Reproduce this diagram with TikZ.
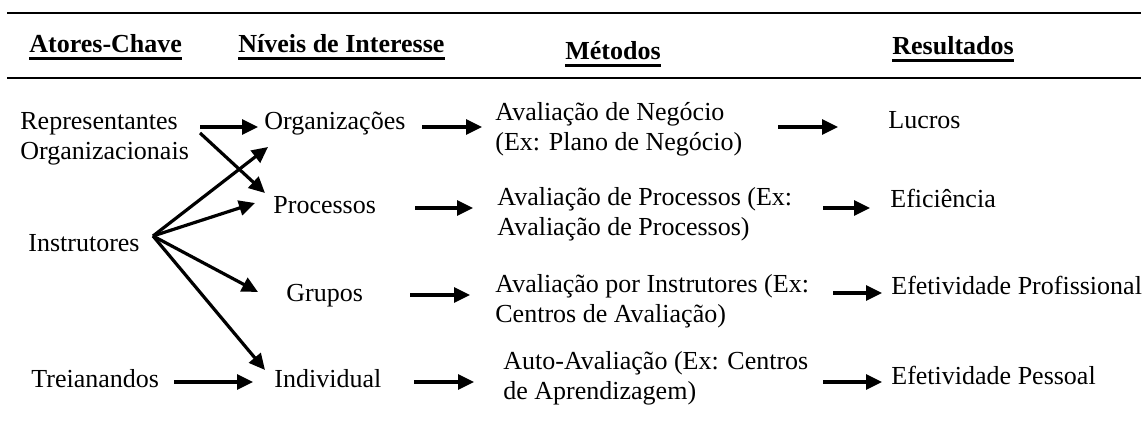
\documentclass[tikz,border=0pt]{standalone}
\usepackage{fontspec}
\setmainfont{Liberation Serif}
\usetikzlibrary{arrows.meta}
\begin{document}
\begin{tikzpicture}[x=0.5pt,y=-0.5pt,
  txt/.style={anchor=base west,inner sep=0pt,font=\fontsize{13}{15}\selectfont},
  hd/.style={anchor=base west,inner sep=0pt,font=\fontsize{13}{15}\selectfont\bfseries},
  arr/.style={line width=1.6pt,-{Triangle[length=8pt,width=7.5pt]}},
  hrule/.style={line width=1.3pt},
  uline/.style={line width=1.2pt}]
\useasboundingbox (0,0) rectangle (1148,432);
% horizontal rules
\draw[hrule] (7,13) -- (1141,13);
\draw[hrule] (7,78) -- (1141,78);
% headers
\node[hd] (h1) at (29,53) {Atores-Chave};
\node[hd] (h2) at (238,53) {Níveis de Interesse};
\node[hd] (h3) at (565,60) {Métodos};
\node[hd] (h4) at (892,55) {Resultados};
\foreach \h in {h1,h2,h3,h4}
  \draw[uline] ([yshift=-2.75pt]\h.base west) -- ([yshift=-2.75pt]\h.base east);
% actors
\node[txt] (rep) at (20,130) {\begin{tabular}[t]{@{}l@{}}Representantes\\Organizacionais\end{tabular}};
\node[txt] (instr) at (28,252) {Instrutores};
\node[txt] (trei) at (31,388) {Treianandos};
% levels
\node[txt] (org) at (264,130) {Organizações};
\node[txt] (proc) at (273,214) {Processos};
\node[txt] (grp) at (286,302) {Grupos};
\node[txt] (ind) at (274,388) {Individual};
% methods
\node[txt] (m1) at (495,121) {\begin{tabular}[t]{@{}l@{}}Avaliação de Negócio\\(Ex: Plano de Negócio)\end{tabular}};
\node[txt] (m2) at (497,206) {\begin{tabular}[t]{@{}l@{}}Avaliação de Processos (Ex:\\Avaliação de Processos)\end{tabular}};
\node[txt] (m3) at (495,293) {\begin{tabular}[t]{@{}l@{}}Avaliação por Instrutores (Ex:\\Centros de Avaliação)\end{tabular}};
\node[txt] (m4) at (503,370) {\begin{tabular}[t]{@{}l@{}}Auto-Avaliação (Ex: Centros\\de Aprendizagem)\end{tabular}};
% results
\node[txt] (r1) at (888,129) {Lucros};
\node[txt] (r2) at (890,208) {Eficiência};
\node[txt] (r3) at (891,295) {Efetividade Profissional};
\node[txt] (r4) at (891,385) {Efetividade Pessoal};
% arrow end points
\coordinate (repA) at (200,127);
\coordinate (repB) at (200,133);
\coordinate (fan) at (153,236);
\coordinate (treiS) at (174,382);
\coordinate (orgIn) at (258,127);
\coordinate (orgIn2) at (268,147);
\coordinate (procIn) at (265,193);
\coordinate (procIn2) at (255,203);
\coordinate (grpIn) at (258,292);
\coordinate (indIn) at (265,370);
\coordinate (indIn2) at (253,382);
\coordinate (orgOut) at (422,127);
\coordinate (m1In) at (482,127);
\coordinate (procOut) at (415,208);
\coordinate (m2In) at (473,208);
\coordinate (grpOut) at (410,295);
\coordinate (m3In) at (470,295);
\coordinate (indOut) at (414,382);
\coordinate (m4In) at (474,382);
\coordinate (m1Out) at (778,127);
\coordinate (r1In) at (838,127);
\coordinate (m2Out) at (823,208);
\coordinate (r2In) at (870,208);
\coordinate (m3Out) at (833,293);
\coordinate (r3In) at (882,293);
\coordinate (m4Out) at (823,382);
\coordinate (r4In) at (882,382);
% arrows
\draw[arr] (repA) -- (orgIn);
\draw[arr] (repB) -- (procIn);
\draw[arr] (fan) -- (orgIn2);
\draw[arr] (fan) -- (procIn2);
\draw[arr] (fan) -- (grpIn);
\draw[arr] (fan) -- (indIn);
\draw[arr] (treiS) -- (indIn2);
\draw[arr] (orgOut) -- (m1In);
\draw[arr] (procOut) -- (m2In);
\draw[arr] (grpOut) -- (m3In);
\draw[arr] (indOut) -- (m4In);
\draw[arr] (m1Out) -- (r1In);
\draw[arr] (m2Out) -- (r2In);
\draw[arr] (m3Out) -- (r3In);
\draw[arr] (m4Out) -- (r4In);
\end{tikzpicture}
\end{document}
